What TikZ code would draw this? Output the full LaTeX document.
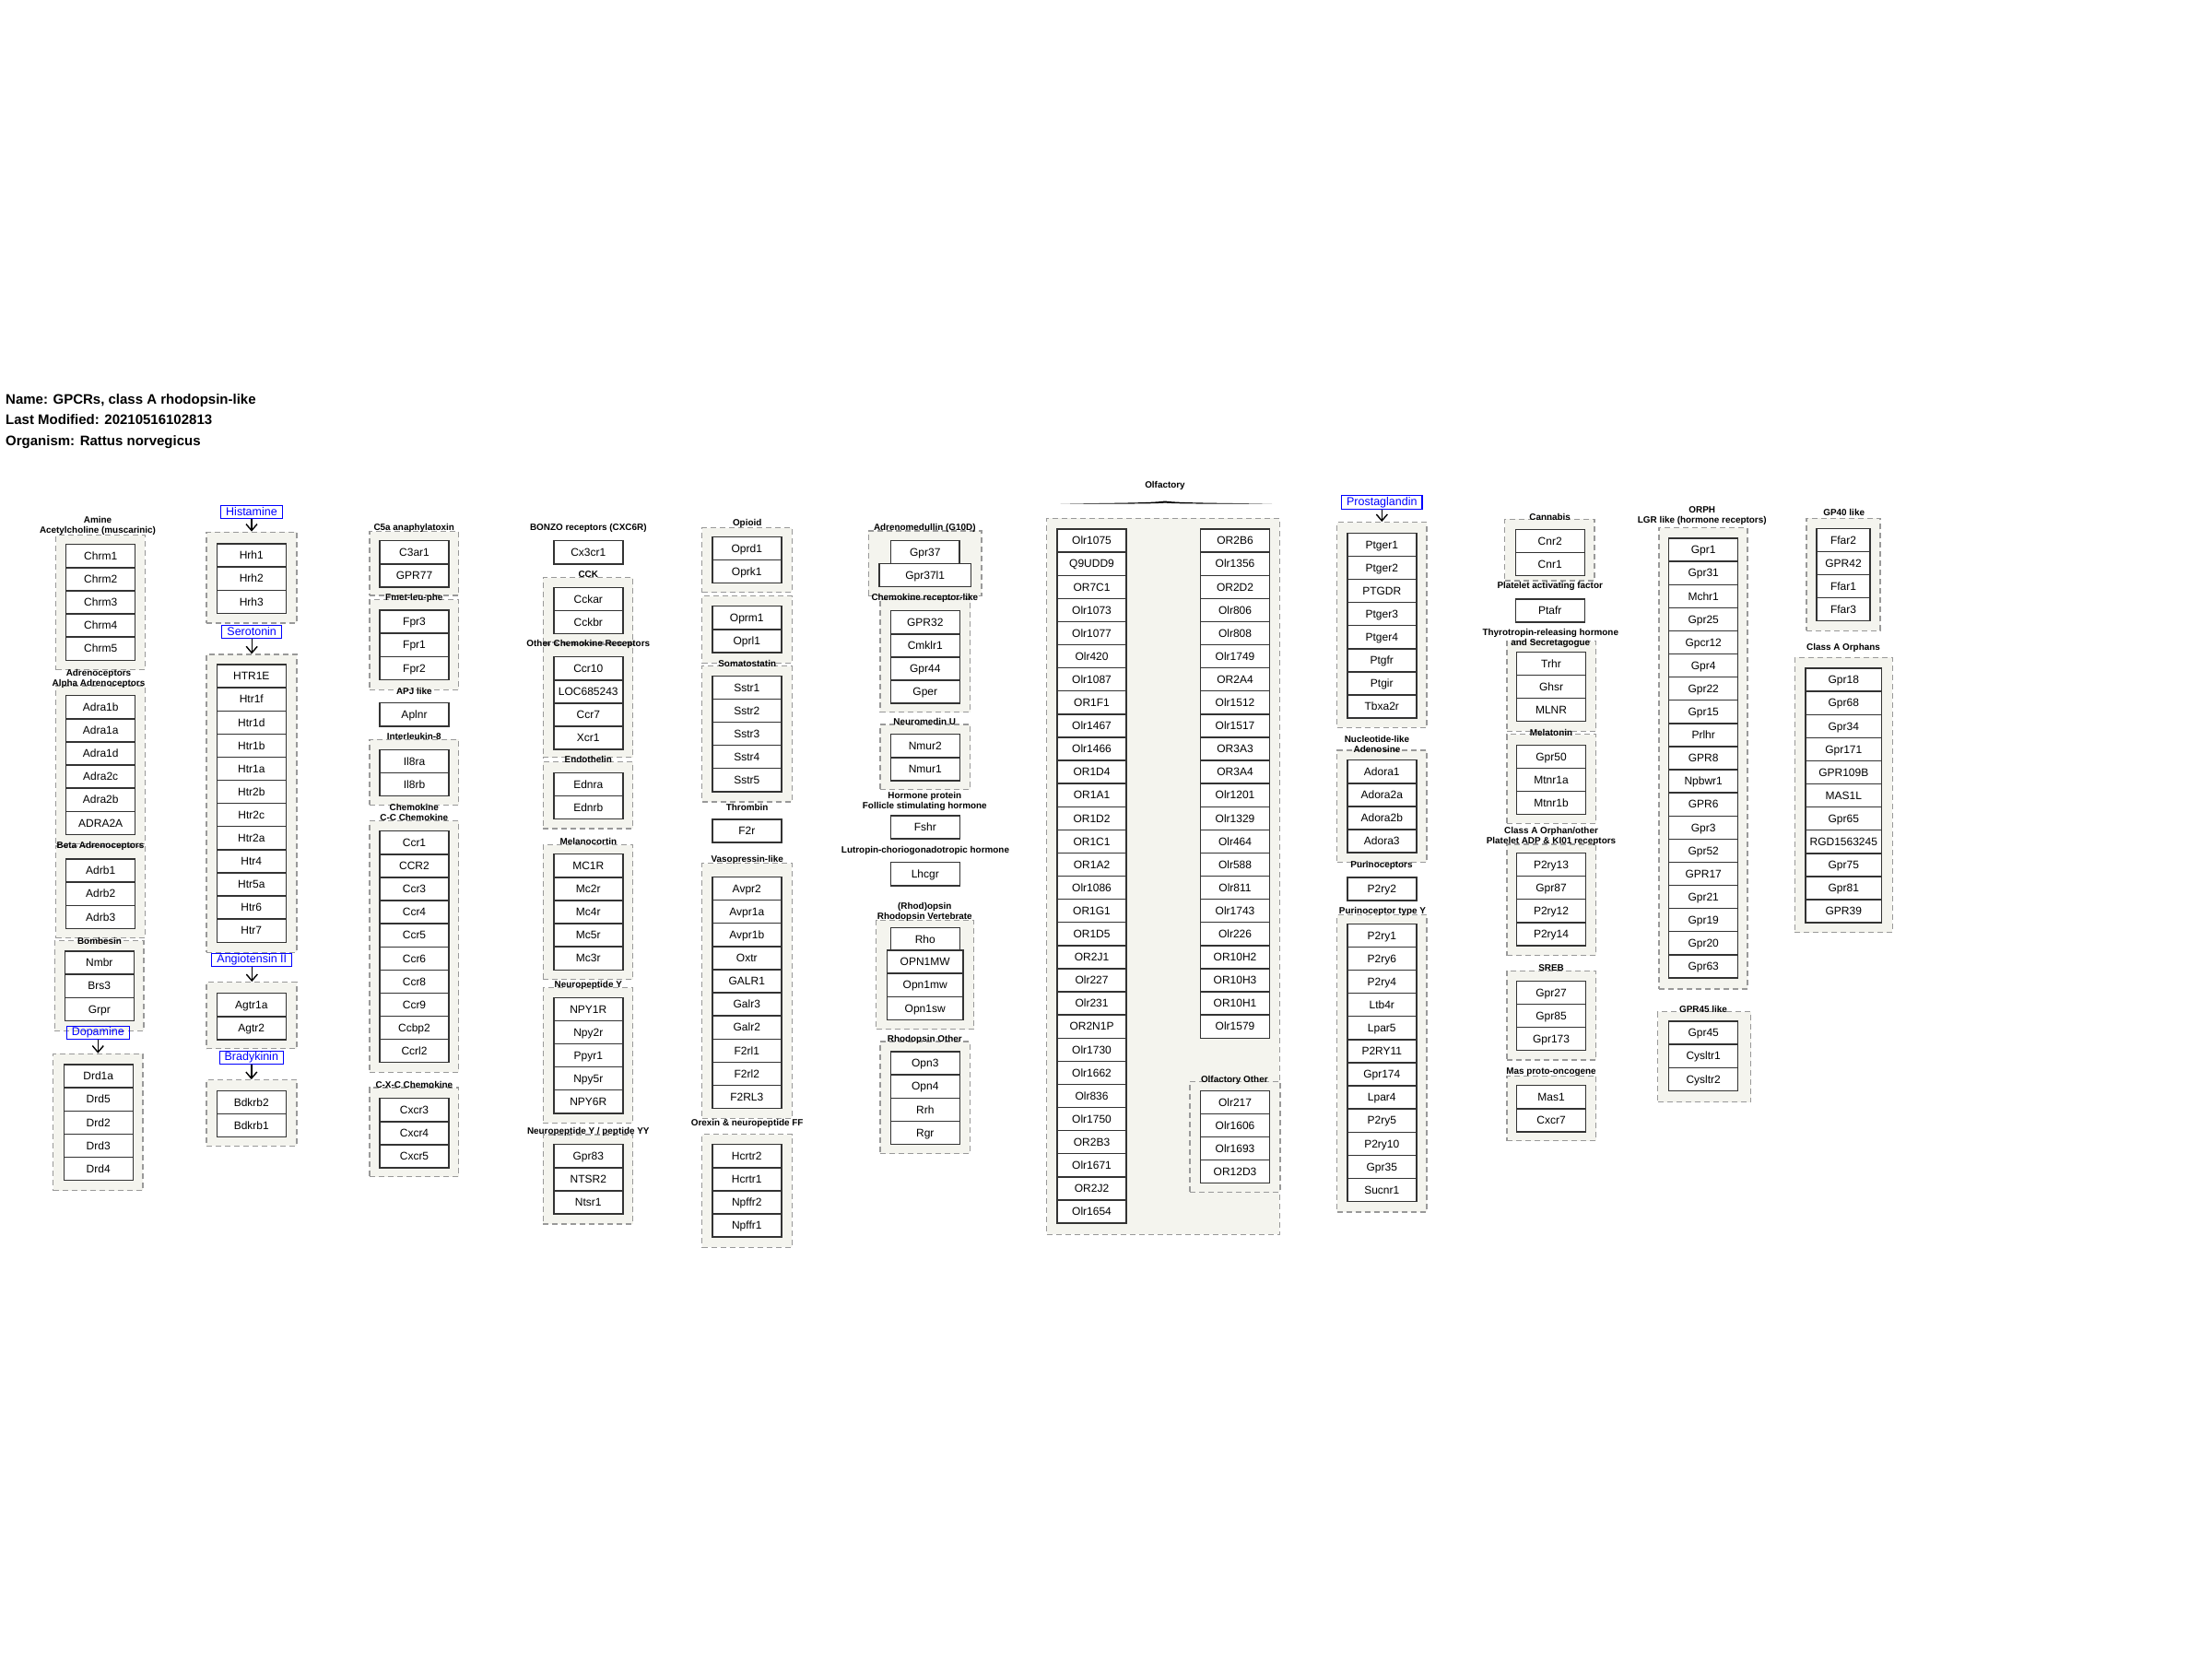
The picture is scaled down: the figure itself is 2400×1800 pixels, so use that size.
\documentclass[tikz,border=0pt]{standalone}
\usepackage{fontspec}
\setmainfont{Liberation Sans}
\usetikzlibrary{arrows.meta,fit}
\definecolor{bez}{RGB}{244,244,238}
\newcommand{\genes}[4][75]{%
  \foreach \g [count=\i from 0] in {#4}
    \node[gene,minimum width=#1pt] (g-\g) at (#2,{#3+12.55+25.1*\i}) {\g};}
\newcommand{\grpbox}[5]{\node[grp,fit={(#2,#3) (#4,#5)}] (#1) {};}
\tikzset{
  gene/.style={draw=black!80,line width=1.4pt,fill=white,minimum height=25.1pt,inner sep=0pt,
    text height=10.4pt,text depth=1.8pt,font=\fontsize{12}{14}\selectfont},
  grp/.style={draw=black!40,line width=1.3pt,dash pattern=on 6pt off 4pt,fill=bez,inner sep=0pt},
  grplab/.style={font=\bfseries\fontsize{9.9}{11}\selectfont,align=center,inner sep=0pt},
  lnk/.style={draw=blue,text=blue,line width=1.1pt,inner xsep=5.5pt,inner ysep=1.2pt,
    text height=9.5pt,text depth=2.5pt,font=\fontsize{12.5}{14}\selectfont},
  arr/.style={line width=1.4pt,-{Straight Barb[length=7pt,width=12pt]}},
}
\begin{document}
\begin{tikzpicture}[x=1pt,y=-1pt]
  \useasboundingbox (0,0) rectangle (2400,1800);
  \begin{scope}[every node/.style={anchor=base west,inner sep=0pt,font=\bfseries\fontsize{15}{18}\selectfont}]
    \node (name) at (6,438.4) {Name: GPCRs, class A rhodopsin-like};
    \node (modif) at (6,460.4) {Last Modified: 20210516102813};
    \node (orgn) at (6,483.4) {Organism: Rattus norvegicus};
  \end{scope}
  % group boxes
  \grpbox{ach}{60.7}{580.7}{157.3}{726.7}
  \grpbox{alpha}{60.7}{744}{157.3}{915.5}
  \grpbox{beta}{60.7}{918}{157.3}{1017.7}
  \grpbox{bomb}{59.3}{1020.7}{156}{1118.3}
  \grpbox{dopa}{57.7}{1143.3}{155}{1291.7}
  \grpbox{hist}{224}{577.3}{322}{676}
  \grpbox{sero}{224}{710}{322}{1033.3}
  \grpbox{angio}{224}{1065.7}{322}{1137.7}
  \grpbox{brady}{224}{1171.7}{322}{1243.3}
  \grpbox{c5a}{401}{576.7}{497.7}{646}
  \grpbox{fmet}{401}{650.7}{497.7}{748.3}
  \grpbox{il8}{401}{802.3}{497.7}{873.3}
  \grpbox{cc}{401}{890.7}{497.7}{1163.3}
  \grpbox{cxc}{401}{1180}{497.7}{1276.7}
  \grpbox{cck}{589.3}{626.7}{686.7}{697}
  \grpbox{othchem}{589.3}{699}{686.7}{821.7}
  \grpbox{endo}{589.3}{826.7}{686.7}{899}
  \grpbox{melano}{589.3}{916.7}{686.7}{1062.7}
  \grpbox{npy}{589.3}{1071.7}{686.7}{1218.3}
  \grpbox{npypyy}{589.3}{1231}{686.7}{1328}
  \grpbox{opi}{761.7}{572.7}{859.3}{642.7}
  \grpbox{opib}{761.7}{646.7}{859.3}{719.3}
  \grpbox{somat}{761.7}{722.7}{859.3}{870}
  \grpbox{vaso}{761.7}{936.7}{859.3}{1213.3}
  \grpbox{orex}{761.7}{1230.7}{859.3}{1353.3}
  \grpbox{adm}{942.3}{576}{1065}{646.7}
  \grpbox{chemlike}{955}{650}{1052.7}{772.7}
  \grpbox{nmu}{955}{786}{1052.7}{856.7}
  \grpbox{rhov}{950.7}{998.3}{1056.7}{1116.7}
  \grpbox{rhoo}{955}{1130}{1052.3}{1251.7}
  \grpbox{olf}{1135.7}{562.3}{1388.3}{1339.3}
  \grpbox{olfoth}{1291}{1173.3}{1389}{1293.3}
  \grpbox{prost}{1450.7}{566.7}{1548}{789.3}
  \grpbox{adeno}{1450.7}{814}{1548}{935.3}
  \grpbox{pury}{1450.7}{992.7}{1548}{1315}
  \grpbox{cann}{1632.7}{563.3}{1730}{630}
  \grpbox{trh}{1635}{695.7}{1731.7}{793.3}
  \grpbox{melat}{1635}{796.7}{1731.7}{893.3}
  \grpbox{ptyorph}{1635}{916}{1731.7}{1036.7}
  \grpbox{sreb}{1635}{1053.3}{1731.7}{1150}
  \grpbox{mas}{1635}{1167.3}{1731.7}{1237.7}
  \grpbox{lgr}{1800}{572.7}{1896}{1073}
  \grpbox{gpr45}{1798.5}{1097.5}{1899.5}{1195.5}
  \grpbox{gp40}{1960}{562.3}{2040}{684.3}
  \grpbox{orph}{1947.3}{713.3}{2053.3}{1011.7}
  % group labels
  \node[grplab] (t-amine) at (106,570) {Amine\\Acetylcholine (muscarinic)};
  \node[grplab] (t-adren) at (107,736) {Adrenoceptors\\Alpha Adrenoceptors};
  \node[grplab] (t-beta) at (109,918) {Beta Adrenoceptors};
  \node[grplab] (t-bomb) at (108,1021) {Bombesin};
  \node[grplab] (t-c5a) at (449.3,573.3) {C5a anaphylatoxin};
  \node[grplab] (t-fmet) at (449.3,648.7) {Fmet-leu-phe};
  \node[grplab] (t-apj) at (449.3,750) {APJ like};
  \node[grplab] (t-il8) at (449.3,799) {Interleukin-8};
  \node[grplab] (t-chem) at (449.3,881.5) {Chemokine\\C-C Chemokine};
  \node[grplab] (t-cxc) at (449.3,1177.3) {C-X-C Chemokine};
  \node[grplab] (t-bonzo) at (638.3,573.3) {BONZO receptors (CXC6R)};
  \node[grplab] (t-cck) at (638.3,623.3) {CCK};
  \node[grplab] (t-othchem) at (638.3,698.7) {Other Chemokine Receptors};
  \node[grplab] (t-endo) at (638.3,824.3) {Endothelin};
  \node[grplab] (t-melano) at (638.3,912.7) {Melanocortin};
  \node[grplab] (t-npy) at (638.3,1069) {Neuropeptide Y};
  \node[grplab] (t-npypyy) at (638.3,1227.7) {Neuropeptide Y / peptide YY};
  \node[grplab] (t-opi) at (810.7,568.3) {Opioid};
  \node[grplab] (t-somat) at (810.7,720) {Somatostatin};
  \node[grplab] (t-thromb) at (810.7,875.7) {Thrombin};
  \node[grplab] (t-vaso) at (810.7,933.3) {Vasopressin-like};
  \node[grplab] (t-orex) at (810.7,1219.3) {Orexin \& neuropeptide FF};
  \node[grplab] (t-adm) at (1003.3,573.3) {Adrenomedullin (G10D)};
  \node[grplab] (t-chemlike) at (1003.3,649) {Chemokine receptor-like};
  \node[grplab] (t-nmu) at (1003.3,782.7) {Neuromedin U};
  \node[grplab] (t-horm) at (1003.3,869.2) {Hormone protein\\Follicle stimulating hormone};
  \node[grplab] (t-lutr) at (1004,922.7) {Lutropin-choriogonadotropic hormone};
  \node[grplab] (t-rhod) at (1003.3,989.3) {(Rhod)opsin\\Rhodopsin Vertebrate};
  \node[grplab] (t-rhoo) at (1003.3,1127.7) {Rhodopsin Other};
  \node[grplab] (t-olf) at (1264,526.7) {Olfactory};
  \node[grplab] (t-olfoth) at (1339.3,1171.7) {Olfactory Other};
  \node[grplab] (t-nucl) at (1494,807.7) {Nucleotide-like\\Adenosine};
  \node[grplab] (t-puri) at (1499,939) {Purinoceptors};
  \node[grplab] (t-pury) at (1500,988.7) {Purinoceptor type Y};
  \node[grplab] (t-cann) at (1681.7,560.7) {Cannabis};
  \node[grplab] (t-paf) at (1681.7,635.7) {Platelet activating factor};
  \node[grplab] (t-trh) at (1682.3,692.2) {Thyrotropin-releasing hormone\\and Secretagogue};
  \node[grplab] (t-melat) at (1683,795) {Melatonin};
  \node[grplab] (t-ptyorph) at (1683,907.7) {Class A Orphan/other\\Platelet ADP \& KI01 receptors};
  \node[grplab] (t-sreb) at (1683,1050) {SREB};
  \node[grplab] (t-mas) at (1683,1163.3) {Mas proto-oncogene};
  \node[grplab] (t-orph) at (1846.7,560) {ORPH\\LGR like (hormone receptors)};
  \node[grplab] (t-gpr45) at (1848,1094.5) {GPR45 like};
  \node[grplab] (t-gp40) at (2000.7,555.7) {GP40 like};
  \node[grplab] (t-orphans) at (2000,703) {Class A Orphans};
  % olfactory brace
  \fill (1150.7,546.7) .. controls (1200,545.6) and (1250,545.8) .. (1264,543.5)
    .. controls (1278,545.8) and (1330,545.6) .. (1380,546.7)
    .. controls (1330,546.6) and (1278,546.8) .. (1264,545.6)
    .. controls (1250,546.8) and (1200,546.6) .. cycle;
  % linked labels
  \node[lnk] (l-hist) at (273,555.5) {Histamine};
  \node[lnk] (l-sero) at (273.2,685.5) {Serotonin};
  \node[lnk] (l-angio) at (273.3,1041.3) {Angiotensin II};
  \node[lnk] (l-brady) at (272.8,1147.3) {Bradykinin};
  \node[lnk] (l-dopa) at (106.3,1120.3) {Dopamine};
  \node[lnk] (l-prost) at (1499.3,545) {Prostaglandin};
  \draw[arr] (l-hist.south) -- (l-hist.south |- hist.north);
  \draw[arr] (l-sero.south) -- (l-sero.south |- sero.north);
  \draw[arr] (l-angio.south) -- (l-angio.south |- angio.north);
  \draw[arr] (l-brady.south) -- (l-brady.south |- brady.north);
  \draw[arr] (l-dopa.south) -- (l-dopa.south |- dopa.north);
  \draw[arr] (l-prost.south) -- (l-prost.south |- prost.north);
  % genes
  \genes{109.2}{590.7}{Chrm1,Chrm2,Chrm3,Chrm4,Chrm5}
  \genes{109.2}{754.7}{Adra1b,Adra1a,Adra1d,Adra2c,Adra2b,ADRA2A}
  \genes{109.2}{932}{Adrb1,Adrb2,Adrb3}
  \genes{107.8}{1032}{Nmbr,Brs3,Grpr}
  \genes{106.7}{1155}{Drd1a,Drd5,Drd2,Drd3,Drd4}
  \genes{272.8}{590}{Hrh1,Hrh2,Hrh3}
  \genes{272.8}{721}{HTR1E,Htr1f,Htr1d,Htr1b,Htr1a,Htr2b,Htr2c,Htr2a,Htr4,Htr5a,Htr6,Htr7}
  \genes{272.8}{1077.7}{Agtr1a,Agtr2}
  \genes{272.8}{1183.3}{Bdkrb2,Bdkrb1}
  \genes{449.5}{586.7}{C3ar1,GPR77}
  \genes{449.5}{662}{Fpr3,Fpr1,Fpr2}
  \genes{449.5}{762.7}{Aplnr}
  \genes{449.5}{813.3}{Il8ra,Il8rb}
  \genes{449.5}{901.7}{Ccr1,CCR2,Ccr3,Ccr4,Ccr5,Ccr6,Ccr8,Ccr9,Ccbp2,Ccrl2}
  \genes{449.5}{1191.7}{Cxcr3,Cxcr4,Cxcr5}
  \genes{638.3}{586.7}{Cx3cr1}
  \genes{638.3}{637.3}{Cckar,Cckbr}
  \genes{638.3}{712.7}{Ccr10,LOC685243,Ccr7,Xcr1}
  \genes{638.3}{838.3}{Ednra,Ednrb}
  \genes{638.3}{926.7}{MC1R,Mc2r,Mc4r,Mc5r,Mc3r}
  \genes{638.3}{1082.3}{NPY1R,Npy2r,Ppyr1,Npy5r,NPY6R}
  \genes{638.3}{1241.7}{Gpr83,NTSR2,Ntsr1}
  \genes{810.3}{582.3}{Oprd1,Oprk1}
  \genes{810.3}{657.7}{Oprm1,Oprl1}
  \genes{810.3}{733.3}{Sstr1,Sstr2,Sstr3,Sstr4,Sstr5}
  \genes{810.3}{889}{F2r}
  \genes{810.3}{951.5}{Avpr2,Avpr1a,Avpr1b,Oxtr,GALR1,Galr3,Galr2,F2rl1,F2rl2,F2RL3}
  \genes{810.3}{1241.7}{Hcrtr2,Hcrtr1,Npffr2,Npffr1}
  \genes[74.3]{1003.8}{586.2}{Gpr37}
  \genes[99.3]{1003.7}{611.3}{Gpr37l1}
  \genes{1003.8}{662.7}{GPR32,Cmklr1,Gpr44,Gper}
  \genes{1003.8}{796.7}{Nmur2,Nmur1}
  \genes{1003.8}{885}{Fshr}
  \genes{1003.8}{935.7}{Lhcgr}
  \genes{1003.8}{1006.7}{Rho}
  \genes[82.7]{1003.7}{1031}{OPN1MW,Opn1mw,Opn1sw}
  \genes{1003.8}{1141}{Opn3,Opn4,Rrh,Rgr}
  \genes{1184.5}{574}{Olr1075,Q9UDD9,OR7C1,Olr1073,Olr1077,Olr420,Olr1087,OR1F1,Olr1467,Olr1466,
    OR1D4,OR1A1,OR1D2,OR1C1,OR1A2,Olr1086,OR1G1,OR1D5,OR2J1,Olr227,Olr231,OR2N1P,Olr1730,Olr1662,
    Olr836,Olr1750,OR2B3,Olr1671,OR2J2,Olr1654}
  \genes{1340}{574}{OR2B6,Olr1356,OR2D2,Olr806,Olr808,Olr1749,OR2A4,Olr1512,Olr1517,OR3A3,OR3A4,
    Olr1201,Olr1329,Olr464,Olr588,Olr811,Olr1743,Olr226,OR10H2,OR10H3,OR10H1,Olr1579}
  \genes{1340}{1183.3}{Olr217,Olr1606,Olr1693,OR12D3}
  \genes{1499.3}{578.3}{Ptger1,Ptger2,PTGDR,Ptger3,Ptger4,Ptgfr,Ptgir,Tbxa2r}
  \genes{1499.3}{824.7}{Adora1,Adora2a,Adora2b,Adora3}
  \genes{1499.3}{952}{P2ry2}
  \genes{1499.3}{1002.3}{P2ry1,P2ry6,P2ry4,Ltb4r,Lpar5,P2RY11,Gpr174,Lpar4,P2ry5,P2ry10,Gpr35,Sucnr1}
  \genes{1681.7}{574.3}{Cnr2,Cnr1}
  \genes{1681.7}{650}{Ptafr}
  \genes{1683}{707.3}{Trhr,Ghsr,MLNR}
  \genes{1683}{808.3}{Gpr50,Mtnr1a,Mtnr1b}
  \genes{1683}{925.5}{P2ry13,Gpr87,P2ry12,P2ry14}
  \genes{1683}{1064.3}{Gpr27,Gpr85,Gpr173}
  \genes{1683}{1177.7}{Mas1,Cxcr7}
  \genes{1848.2}{584}{Gpr1,Gpr31,Mchr1,Gpr25,Gpcr12,Gpr4,Gpr22,Gpr15,Prlhr,GPR8,Npbwr1,GPR6,Gpr3,
    Gpr52,GPR17,Gpr21,Gpr19,Gpr20,Gpr63}
  \genes{1848.2}{1108}{Gpr45,Cysltr1,Cysltr2}
  \genes[58]{2000}{573.3}{Ffar2,GPR42,Ffar1,Ffar3}
  \genes[82.7]{2000.3}{725}{Gpr18,Gpr68,Gpr34,Gpr171,GPR109B,MAS1L,Gpr65,RGD1563245,Gpr75,Gpr81,GPR39}
\end{tikzpicture}
\end{document}
